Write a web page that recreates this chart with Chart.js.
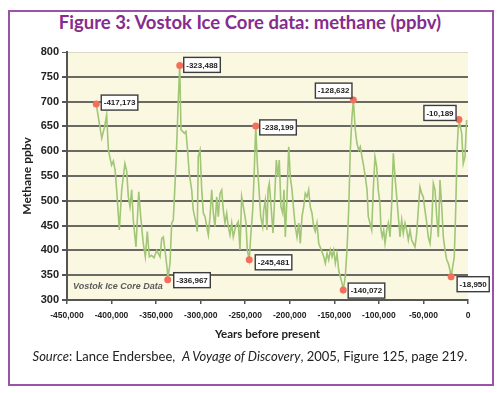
<!DOCTYPE html>
<html lang="en">
<head>
<meta charset="UTF-8">
<title>Vostok Ice Core data: methane</title>
<script src="https://cdn.jsdelivr.net/npm/chart.js"></script>
<style>
    body { margin: 0; width: 500px; height: 393px; background: #fff; position: relative; overflow: hidden; font-family: 'Lato', 'Open Sans', sans-serif; }
    .frame { position: absolute; left: 8px; top: 10px; width: 486px; height: 376px; border: 2px solid #9d52aa; box-sizing: border-box; }
    .title { position: absolute; left: 0; top: 11px; width: 500px; text-align: center; font-size: 18.5px; font-weight: bold; color: #862c8e; }
    .source { position: absolute; left: 0; top: 348px; width: 500px; text-align: center; font-size: 13px; color: #222; }
    canvas { position: absolute; left: 0; top: 0; }
</style>
</head>
<body>
<div class="frame"></div>
<div class="title">Figure 3: Vostok Ice Core data: methane (ppbv)</div>
<canvas id="chart" width="500" height="393"></canvas>
<div class="source"><i>Source</i>: Lance Endersbee,&nbsp; <i>A Voyage of Discovery</i>, 2005, Figure 125, page 219.</div>

<script>
// years before present (x) and methane in ppbv (y)
const years = [
    -417173, -411000, -408000, -405500, -403500, -400000, -398000, -396000, -394000, -391300,
    -388600, -385000, -383000, -381200, -379300, -377400, -375600, -372600, -369500, -367300,
    -364400, -362100, -359900, -357600, -355000, -352400, -349300, -345600, -343700, -341900,
    -340000, -337400, -336967, -334400, -332500, -330700, -327700, -325100, -323488, -322100,
    -320200, -318400, -316500, -315000, -312800, -310100, -308300, -305200, -303800, -302700,
    -300700, -298800, -297000, -295100, -293200, -291400, -289500, -287600, -285800, -283900,
    -282000, -280200, -278300, -276400, -274600, -272700, -270800, -269000, -267100, -265200,
    -263400, -260700, -257800, -255900, -254000, -251400, -249100, -247700, -245481, -243900,
    -241600, -239800, -238199, -236400, -234500, -232600, -230400, -229300, -227500, -225600,
    -224400, -223000, -220700, -218800, -216900, -215100, -213200, -211800, -209900, -207900,
    -206500, -205000, -203100, -201200, -199400, -197500, -195600, -193800, -191900, -190000,
    -188200, -186300, -184400, -182600, -180700, -178800, -177000, -175100, -173200, -171400,
    -169500, -167500, -164600, -161900, -160100, -158200, -156300, -154500, -152600, -150700,
    -148900, -147000, -145100, -143300, -141400, -140072, -137700, -135800, -133900, -132100,
    -130200, -128632, -126500, -124600, -122700, -120900, -119000, -117000, -115200, -113300,
    -111900, -110000, -108100, -106300, -104400, -102500, -100700, -98800, -97600, -96200,
    -94600, -93100, -91200, -89400, -87500, -85600, -83800, -81900, -80000, -78200,
    -76300, -74400, -72600, -70700, -68800, -67000, -65100, -63200, -61400, -59500,
    -57600, -55800, -53900, -52000, -50200, -48300, -46300, -44600, -42600, -40700,
    -38900, -37000, -35100, -33300, -31400, -29500, -27700, -25800, -23900, -22100,
    -20200, -18950, -15400, -13800, -12300, -10900, -10189, -7100, -5300, -3400,
    -1500
];
const methane = [
    695, 626, 648, 673, 602, 572, 580, 562, 515, 441,
    522, 575, 560, 508, 488, 522, 461, 407, 518, 468,
    414, 387, 438, 387, 390, 385, 400, 387, 424, 427,
    400, 360, 341, 374, 455, 461, 575, 703, 773, 643,
    640, 636, 640, 609, 555, 522, 481, 455, 438, 589,
    602, 522, 475, 468, 448, 431, 468, 522, 475, 448,
    508, 468, 515, 522, 481, 455, 475, 448, 431, 455,
    427, 448, 458, 401, 508, 481, 455, 401, 381, 427,
    481, 562, 651, 575, 522, 468, 448, 481, 501, 441,
    522, 535, 481, 435, 508, 582, 548, 582, 488, 475,
    522, 427, 508, 609, 548, 522, 481, 448, 427, 455,
    414, 468, 488, 515, 508, 522, 488, 475, 448, 438,
    455, 414, 401, 387, 374, 394, 381, 401, 387, 401,
    374, 394, 360, 347, 334, 320, 347, 401, 481, 602,
    669, 703, 643, 616, 602, 609, 589, 569, 548, 522,
    468, 455, 441, 522, 589, 569, 522, 495, 441, 427,
    441, 414, 441, 455, 427, 495, 596, 548, 508, 468,
    427, 461, 434, 455, 441, 421, 441, 421, 414, 407,
    434, 481, 528, 515, 508, 481, 455, 427, 414, 455,
    535, 522, 468, 427, 542, 488, 427, 401, 381, 374,
    360, 347, 387, 481, 602, 649, 664, 636, 575, 589,
    663
];

// highlighted peaks and troughs
const markerYears  = [-417173, -336967, -323488, -245481, -238199, -140072, -128632, -18950, -10189];
const markerValues = [695, 341, 773, 381, 651, 320, 703, 347, 664];
// where each label box sits relative to its point (px)
const labelOffsets = [[5, -9], [6, -7], [4, -8], [6, -5], [4, -6], [5, -7], [-38, -17], [6, 0], [-35, -14]];

const xTicks = [-450000, 0, 50000]; // min, max, step
const yTicks = [300, 800, 50];

const plotBackground = {
    id: 'plotBackground',
    beforeDraw(chart) {
        const { ctx, chartArea: a } = chart;
        ctx.save();
        ctx.fillStyle = '#fbf8e2';
        ctx.fillRect(a.left, a.top, a.right - a.left, a.bottom - a.top);
        ctx.restore();
    }
};

const peakLabels = {
    id: 'peakLabels',
    afterDatasetsDraw(chart) {
        const { ctx, chartArea: a } = chart;
        const xs = chart.scales.x, ys = chart.scales.y;
        ctx.save();
        ctx.font = 'bold 8px "Liberation Sans Narrow", "Liberation Sans", sans-serif';
        ctx.textBaseline = 'middle';
        markerYears.forEach((yr, i) => {
            const px = xs.getPixelForValue(yr);
            const py = ys.getPixelForValue(markerValues[i]);
            const text = yr.toLocaleString('en-US');
            const w = ctx.measureText(text).width + 5;
            const h = 15;
            const bx = px + labelOffsets[i][0], by = py + labelOffsets[i][1];
            ctx.fillStyle = '#fff';
            ctx.fillRect(bx, by, w, h);
            ctx.lineWidth = 1.4;
            ctx.strokeStyle = '#3c3c3c';
            ctx.strokeRect(bx, by, w, h);
            ctx.fillStyle = '#222';
            ctx.textAlign = 'left';
            ctx.fillText(text, bx + 2.5, by + h / 2 + 0.5);
        });
        ctx.font = 'italic bold 9px "Liberation Sans", sans-serif';
        ctx.fillStyle = '#5a5a5a';
        ctx.textAlign = 'left';
        ctx.fillText('Vostok Ice Core Data', a.left + 6, a.bottom - 13);
        ctx.restore();
    }
};

new Chart(document.getElementById('chart'), {
    type: 'scatter',
    data: {
        datasets: [
            {
                label: 'peaks',
                data: markerYears.map((x, i) => ({ x, y: markerValues[i] })),
                showLine: false,
                pointRadius: 3.5,
                pointBackgroundColor: '#f36f5c',
                pointBorderWidth: 0
            },
            {
                label: 'Vostok Ice Core Data',
                data: years.map((x, i) => ({ x, y: methane[i] })),
                showLine: true,
                borderColor: '#a0c676',
                borderWidth: 1.6,
                pointRadius: 0,
                tension: 0
            }
        ]
    },
    options: {
        responsive: false,
        animation: false,
        devicePixelRatio: 1,
        layout: { padding: { top: 52, right: 32, left: 0, bottom: 52 } },
        plugins: {
            legend: { display: false },
            tooltip: { enabled: false }
        },
        scales: {
            x: {
                type: 'linear',
                min: xTicks[0],
                max: xTicks[1],
                ticks: {
                    stepSize: xTicks[2],
                    padding: 7,
                    color: '#222',
                    font: { family: '"Liberation Sans", sans-serif', size: 8.5, weight: 'bold' },
                    maxRotation: 0,
                    callback: v => v.toLocaleString('en-US')
                },
                grid: { drawOnChartArea: false, drawTicks: true, tickLength: 4, color: '#555', lineWidth: 1.5 },
                border: { display: true, color: '#555', width: 2 },
                title: {
                    display: true,
                    text: 'Years before present',
                    color: '#222',
                    padding: 0,
                    font: { family: 'Lato, sans-serif', size: 11.5, weight: 'bold' }
                },
                afterFit: s => { s.height = 41; }
            },
            y: {
                min: yTicks[0],
                max: yTicks[1],
                ticks: {
                    stepSize: yTicks[2],
                    padding: 3,
                    color: '#222',
                    font: { family: '"Liberation Sans", sans-serif', size: 11, weight: 'bold' }
                },
                grid: {
                    tickLength: 5,
                    lineWidth: c => (c.tick && c.tick.value === 800 ? 1 : 2),
                    color: c => (c.tick && c.tick.value === 800 ? 'rgba(120,120,120,0.25)' : '#6a6a64'),
                    tickColor: '#555'
                },
                border: { display: true, color: '#555', width: 2 },
                title: {
                    display: true,
                    text: 'Methane ppbv',
                    color: '#222',
                    padding: { top: 20, bottom: 0 },
                    font: { family: 'Lato, sans-serif', size: 12, weight: 'bold' }
                },
                afterFit: s => { s.width = 67; }
            }
        }
    },
    plugins: [plotBackground, peakLabels]
});
</script>
</body>
</html>
